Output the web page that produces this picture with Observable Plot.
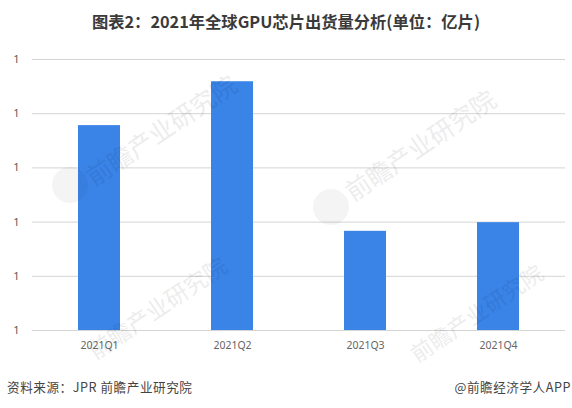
<!DOCTYPE html>
<html><head><meta charset="utf-8">
<script src="https://cdn.jsdelivr.net/npm/d3@7"></script>
<script src="https://cdn.jsdelivr.net/npm/@observablehq/plot@0.6"></script>
<style>
html,body{margin:0;padding:0;background:#fff;width:572px;height:408px;overflow:hidden}
body{position:relative;font-family:"Noto Sans CJK SC","Noto Sans",sans-serif}
#title{height:42px;line-height:42px;text-align:center;font-size:16.3px;font-weight:700;color:#3a3a3a;white-space:nowrap}
#chart{position:absolute;left:0;top:44px}
#marks{position:absolute;left:0;top:0;width:572px;height:408px}
#src,#app{position:absolute;top:378px;font-size:12.6px;line-height:18px;color:#444;letter-spacing:.55px;white-space:nowrap}
#src{left:7px}#app{right:1px}
.wm{position:absolute;transform:rotate(-34deg);transform-origin:left center;font-size:25px;color:#000;opacity:.07;white-space:nowrap;line-height:30px}
.logo{position:absolute;width:36px;height:36px;border-radius:50%;background:#000;opacity:.045}
</style></head><body>
<div id="title">图表2：2021年全球GPU芯片出货量分析(单位：亿片)</div>
<div id="chart"></div>
<div id="marks">
<div class="logo" style="left:52px;top:167px"></div>
<div class="logo" style="left:313px;top:189px"></div>
<div class="wm" style="left:88px;top:163px">前瞻产业研究院</div>
<div class="wm" style="left:347px;top:178px">前瞻产业研究院</div>
<div class="wm" style="left:90px;top:337px;font-size:23px">前瞻产业研究院</div>
<div class="wm" style="left:412px;top:340px;font-size:22px">前瞻产业研究院</div>
</div>
<div id="src">资料来源：JPR 前瞻产业研究院</div>
<div id="app">@前瞻经济学人APP</div>
<script>
const quarters = ["2021Q1","2021Q2","2021Q3","2021Q4"];
const shipments = [1.278,1.359,1.083,1.099];
const yTicks = [0.9,1.0,1.1,1.2,1.3,1.4];
const rows = quarters.map((q,i)=>({q,v:shipments[i]}));
const plot = Plot.plot({
  width:572,height:320,
  marginLeft:32,marginRight:7,marginTop:15,marginBottom:34,
  style:{background:"transparent",fontFamily:'"Noto Sans","Noto Sans CJK SC",sans-serif'},
  x:{domain:quarters,paddingInner:0.685,paddingOuter:0.3425,align:0.5,label:null,tickSize:0},
  y:{domain:[0.9,1.4],label:null},
  marks:[
    Plot.gridY(yTicks,{stroke:"#d4d4d4",strokeOpacity:1,strokeWidth:1}),
    Plot.barY(rows,{x:"q",y1:0.9,y2:"v",fill:"#3a84e8"}),
    Plot.axisY(yTicks,{tickSize:0,tickFormat:d3.format(".0f"),fontSize:11,color:"#595959",tickPadding:13,label:null}),
    Plot.axisX({tickSize:0,fontSize:10.5,color:"#666",tickPadding:11,label:null})
  ]
});
document.getElementById("chart").append(plot);
</script>
</body></html>
